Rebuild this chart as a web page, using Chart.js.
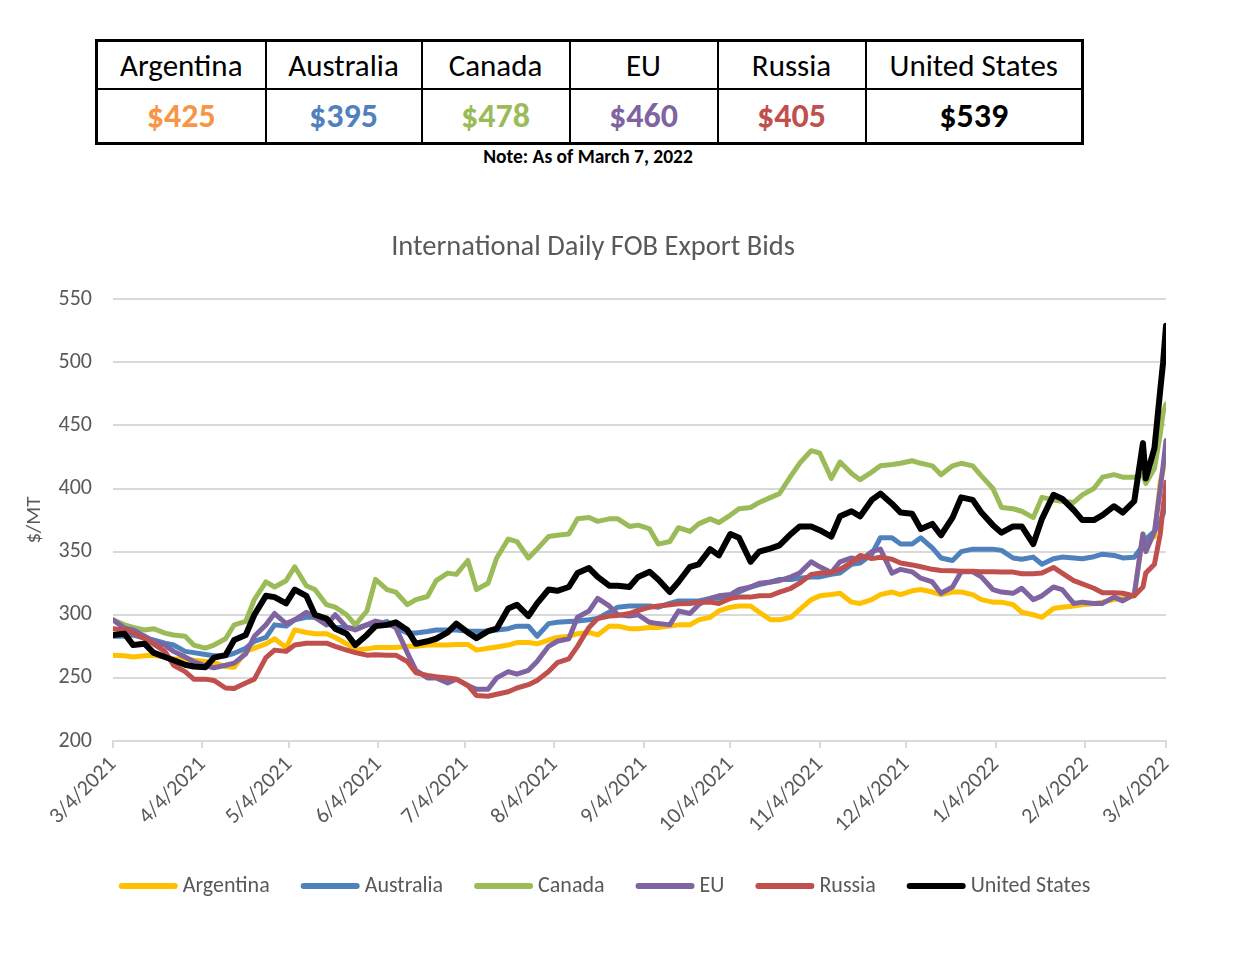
<!DOCTYPE html>
<html>
<head>
<meta charset="utf-8">
<script src="https://cdn.jsdelivr.net/npm/chart.js@4.4.1/dist/chart.umd.min.js"></script>
<style>
  html, body { margin: 0; padding: 0; background: #fff; }
  body { width: 1243px; height: 953px; position: relative; overflow: hidden; font-family: Carlito, Calibri, Lato, sans-serif; }
  #tbl { position: absolute; left: 95px; top: 39px; width: 986px; height: 104px; border-collapse: collapse; border: 3px solid #000; table-layout: fixed; }
  #tbl td { border: 2px solid #000; text-align: center; padding: 0; line-height: 1; }
  #tbl tr.h td { height: 46px; font-size: 31px; color: #000; }
  #tbl tr.v td { height: 52px; font-size: 34px; font-weight: bold; }
  #note { position: absolute; left: 0; width: 1176px; top: 145px; text-align: center; font-size: 19.5px; font-weight: bold; color: #000; line-height: 23px; }
  #wrap { position: absolute; left: 0; top: 200px; width: 1243px; height: 753px; }
</style>
</head>
<body>
<table id="tbl"></table>
<div id="note">Note: As of March 7, 2022</div>
<div id="wrap"><canvas id="c"></canvas></div>
<script>
// ---- data ----
const countries = ["Argentina", "Australia", "Canada", "EU", "Russia", "United States"];
const latestBids = ["$425", "$395", "$478", "$460", "$405", "$539"];
const tableColors = ["#F79646", "#4F81BD", "#9BBB59", "#8064A2", "#C0504D", "#000000"];
const lineColors = ["#FFC000", "#4F81BD", "#9BBB59", "#8064A2", "#C0504D", "#000000"];

// days since 3/4/2021
const days = [0,4,7,11,14,18,21,25,28,32,35,39,42,46,49,53,56,60,63,67,70,74,77,81,84,88,91,95,98,102,105,109,112,116,119,123,126,130,133,137,140,144,147,151,154,158,161,165,168,172,175,179,182,186,189,193,196,200,203,207,210,214,217,221,224,228,231,235,238,242,245,249,252,256,259,263,266,270,273,277,280,284,287,291,294,298,301,305,308,312,315,319,322,326,329,333,336,340,343,347,350,354,357,358,361,363,364,365];

const argentina = [268,267.5,266.5,267.5,268,266.5,265,265,264,263,
  262,259,258.5,271,273.5,277,281,274,288,286,
  285,285,282,277,272,273,274,274,274,275,
  275,276,276,276,276.5,276.5,
  272,273.5,274.5,276,278,278,277,280,282,283,285,286,284,291,
  291,289,289,290,290,291,292,292,296,298,303,306,307,307,302,296,296,298,304,312,315,
  316,317,310,309,312,316,318,316,319,320,318,316,318,318,316,312,310,
  310,308,302,300,298,305,306,307,308,309,310,312,313,315,
  364,358,362,405,415,425];

const australia = [283,283,284,281.5,280,277.5,276,271,270,268.5,
  267.5,267.5,269.5,273.5,279,282,292,291,296,298,
  298,293.4,290,290,289,292,292,294.7,290,285.5,
  285.5,286.8,288,288,288,287,
  287,287,288,289,291,291,283,293,294,294.7,295,296,297,302,
  306,307,307,307,306,309,311,311,311,313,313,313,318,322,324,326,328,328,329,330,330,
  332,333,340,341,348,361,361,356,356,361,353,345,343,350,352,352,352,
  351,345,344,345.7,340,344.4,345.7,345,344.4,346,348,347,345,345.5,
  355,360,366,374,380,387];

const canada = [296,292,290,288,289,285.5,284,283,276,273.6,
  276,281,292,294.7,312,326,322,327,338,323,
  320,308,306,300,292,303,328,320,318,308,
  312,314.5,327,333,332,343,
  320,325,345,360,358,345,352,362,363,364,376,377,374,376,
  376,370,371,368,356,358,369,366,372,376,373,379,384,385,389,393,396,410,420,430,428,
  408,421,412,407,413,418,419,420,422,420,418,411,418,420,418,410,400,
  385,384,382,377,393,391,390,389,395,400,409,411,409,409,
  411,404,416,443,460,467];

const eu = [296,289.4,288,283,279,276,271,266.5,263,259.5,
  258,260,261.7,269,283,292,301,293,296,302,
  298,292,300,290,288,292,295,293,290,270,
  256,250,250,246,249,244,
  241,241,250,255,253,256,263,275,279,281,298,303,313,307,
  300,299,300,294,293,292,303,301,308,313,315,316,320,322,325,326,327,330,333,342,338,
  333.5,342,345,343,350,352,333,336,334,329,326,317,322,334,334,330,320,
  318,317,321,312,315,322,320,309,310,309,309,314,311,316,
  364,350,366,400,418,438];

const russia = [289,288,285.5,281,277,271,260,255,249,249,
  248,242,241.5,246,249,266,272,271,276,277.5,
  277.5,277.5,275,272,270,268,268.3,268,268,263,
  254,252,251,250,249,244,
  236,235.5,237,239,242,244.6,248,255,262,265,275,290,297,299,
  299.5,301,303.4,306,307,308,308.7,309,310,310,309,313,314,314,315,315.3,318,321,325,332,333,
  333.5,336,341.4,347,344.5,345.5,344,341,339.5,338,336,335,334.8,334.5,334.5,334,334,
  333.8,333.8,332.5,332.5,333,337.5,333,327,324.5,321,317.5,317.5,317,315,
  322,333,340,364,385,405];

const unitedStates = [284,285,276,277,270,266.5,264,260.4,259,258.5,
  266,268,280,284,300,315,314,309,320,315,
  300,297,289,285,276,284,291,292,294,288,
  277,279,281,286,293,286,
  281.5,287,289,305,308,299,309,320,319,322,333,337,330,323,
  323,322,330,334,328,318,326,338,340,352,347,364,361,342,350,352.6,355,364,370,370,367,
  362,378,382,378,391,396,388,381,380,368,372,363,377,393,391,381,371,
  365,370,370,356,376,395,392,383,375,375,379,386,381,390,
  436,408,432,478,500,529];

const tickDays = [0,31,61,92,122,153,184,214,245,275,306,337,365];
const tickLabels = ["3/4/2021","4/4/2021","5/4/2021","6/4/2021","7/4/2021","8/4/2021","9/4/2021","10/4/2021","11/4/2021","12/4/2021","1/4/2022","2/4/2022","3/4/2022"];

const seriesValues = [argentina, australia, canada, eu, russia, unitedStates];

// ---- table ----
const tbl = document.getElementById('tbl');
const widths = [169,156,148,148,148,217];
const cg = document.createElement('colgroup');
widths.forEach(w => { const c = document.createElement('col'); c.style.width = w + 'px'; cg.appendChild(c); });
tbl.appendChild(cg);
const trH = document.createElement('tr'); trH.className = 'h';
const trV = document.createElement('tr'); trV.className = 'v';
countries.forEach((c, i) => {
  const th = document.createElement('td'); th.textContent = c; trH.appendChild(th);
  const tv = document.createElement('td'); tv.textContent = latestBids[i]; tv.style.color = tableColors[i]; trV.appendChild(tv);
});
tbl.appendChild(trH); tbl.appendChild(trV);

// ---- chart ----
const FONT = 'Carlito, Calibri, Lato, sans-serif';
const GRAY = '#595959';
const AXIS_FONT = 22;

const datasets = countries.map((name, i) => ({
  label: name,
  data: seriesValues[i].map((v, j) => ({x: days[j], y: v})),
  borderColor: lineColors[i],
  backgroundColor: lineColors[i],
  borderWidth: i === 5 ? 6 : 5,
  pointRadius: 0,
  tension: 0,
  borderJoinStyle: 'round',
  borderCapStyle: 'round'
})).reverse();

// legend drawn in a row below the x axis, markers as thick rounded lines
const lineLegend = {
  id: 'lineLegend',
  afterDraw(chart) {
    const ctx = chart.ctx;
    const cy = 686, markW = 59, gap = 5, itemGap = 31, centerX = 604.5;
    ctx.save();
    ctx.font = `${AXIS_FONT}px ${FONT}`;
    const widthsT = countries.map(c => ctx.measureText(c).width);
    const total = widthsT.reduce((a, w) => a + markW + gap + w, 0) + itemGap * (countries.length - 1);
    let x = centerX - total / 2;
    countries.forEach((c, i) => {
      ctx.strokeStyle = lineColors[i];
      ctx.lineWidth = 6;
      ctx.lineCap = 'round';
      ctx.beginPath();
      ctx.moveTo(x + 3, cy);
      ctx.lineTo(x + markW - 3, cy);
      ctx.stroke();
      ctx.fillStyle = GRAY;
      ctx.textBaseline = 'middle';
      ctx.textAlign = 'left';
      ctx.fillText(c, x + markW + gap, cy);
      x += markW + gap + widthsT[i] + itemGap;
    });
    ctx.restore();
  }
};

new Chart(document.getElementById('c'), {
  type: 'line',
  data: { datasets },
  plugins: [lineLegend],
  options: {
    responsive: true,
    maintainAspectRatio: false,
    animation: false,
    layout: { padding: { left: 20, right: 77, top: 0, bottom: 108 } },
    plugins: {
      tooltip: { enabled: false },
      legend: { display: false },
      title: {
        display: true,
        text: 'International Daily FOB Export Bids',
        color: GRAY,
        font: { family: FONT, size: 28.5, weight: 'normal' },
        padding: { top: 31, bottom: 34 }
      }
    },
    scales: {
      x: {
        type: 'linear',
        min: 0,
        max: 365,
        afterBuildTicks: (scale) => { scale.ticks = tickDays.map(v => ({ value: v })); },
        afterFit: (scale) => { scale.height = 104; },
        ticks: {
          autoSkip: false,
          minRotation: 45,
          maxRotation: 45,
          color: GRAY,
          font: { family: FONT, size: AXIS_FONT },
          padding: 4,
          callback: (value) => { const k = tickDays.indexOf(value); return k >= 0 ? tickLabels[k] : ''; }
        },
        grid: { drawOnChartArea: false, drawTicks: true, tickLength: 7, color: '#D9D9D9', lineWidth: 2 },
        border: { display: true, color: '#D9D9D9', width: 2 }
      },
      y: {
        min: 200,
        max: 550,
        afterFit: (scale) => { scale.width = 93; },
        ticks: { stepSize: 50, color: GRAY, font: { family: FONT, size: AXIS_FONT }, padding: 21 },
        grid: { color: '#D9D9D9', lineWidth: 2, drawTicks: false },
        border: { display: false },
        title: {
          display: true,
          text: '$/MT',
          color: GRAY,
          font: { family: FONT, size: 21 },
          padding: { top: 2, bottom: 0 }
        }
      }
    }
  }
});
</script>
</body>
</html>
